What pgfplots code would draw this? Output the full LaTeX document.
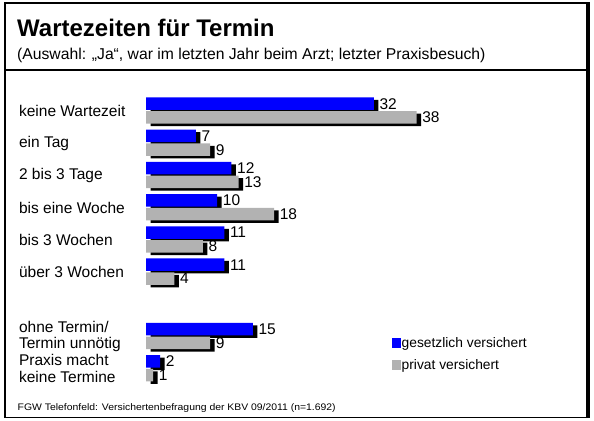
\documentclass[border=0pt]{standalone}
\usepackage{pgfplots}
\pgfplotsset{compat=1.18}
\usepackage{pgfplotstable}
\usepackage{graphicx}
\usepackage{fontspec}
\setmainfont{Liberation Sans}

\definecolor{gkvblue}{RGB}{0,0,255}
\definecolor{pkvgray}{RGB}{178,178,178}

% pos = row (0 at top, 6 left empty), gkv = gesetzlich, pkv = privat (in %)
\pgfplotstableread{
pos gkv pkv
0   32  38
-1  7   9
-2  12  13
-3  10  18
-4  11  8
-5  11  4
-7  15  9
-8  2   1
}\wartezeit

\begin{document}
\begin{tikzpicture}[x=1bp,y=1bp]
\useasboundingbox (0,0) rectangle (594,420);
% frame
\draw[line width=1.2bp] (5,2.5) rectangle (587,417);
\draw[line width=3.5bp] (588,1.8) -- (588,417.6);
\draw[line width=1.2bp] (5,350) -- (587,350);
% title block
\node[anchor=base west, inner sep=0pt, font=\fontsize{24bp}{26bp}\selectfont\bfseries]
  at (17,384) {Wartezeiten für Termin};
\node[anchor=base west, inner sep=0pt, font=\fontsize{15.7bp}{17bp}\selectfont]
  at (17,361) {(Auswahl: „Ja“, war im letzten Jahr beim Arzt; letzter Praxisbesuch)};
\node[anchor=base west, inner sep=0pt]
  at (17.5,10) {\resizebox{318bp}{\height}{\fontsize{9.5bp}{11bp}\selectfont FGW Telefonfeld: Versichertenbefragung der KBV 09/2011 (n=1.692)}};

\begin{axis}[
    x=7.12bp, y=32.2bp,
    anchor=north west, at={(146bp,325.5bp)},
    xmin=0, xmax=40, ymin=-8.5, ymax=0.5,
    enlargelimits=false,
    clip=false,
    axis x line=none,
    axis y line=left,
    y axis line style={draw=none},
    ytick style={draw=none},
    ytick={0,-1,-2,-3,-4,-5,-7,-8},
    yticklabels={keine Wartezeit, ein Tag, 2 bis 3 Tage, bis eine Woche, bis 3 Wochen, über 3 Wochen, {ohne Termin/\\Termin unnötig}, {Praxis macht\\keine Termine}},
    yticklabel style={anchor=west, xshift=-125bp, yshift=-0.5bp, align=left, inner sep=0pt,
        font=\fontsize{15.5bp}{16.5bp}\selectfont},
    /pgf/number format/assume math mode=true,
    nodes near coords style={anchor=west, inner sep=0pt, xshift=5.5bp, text=black,
        font=\fontsize{15.5bp}{17bp}\selectfont},
    legend style={at={(axis cs:34.55,-7.016)}, anchor=north west, draw=none, fill=none,
        inner sep=0pt, row sep=9.5bp, nodes={inner sep=0.5bp},
        font=\fontsize{13.8bp}{15bp}\selectfont},
    legend cell align=left,
]
% shadows
\addplot[xbar, bar width=12.5bp, bar shift=6.9bp, fill=black, draw=none,
    xshift=4.5bp, yshift=-2.5bp, forget plot] table[x=gkv, y=pos] {\wartezeit};
\addplot[xbar, bar width=12.5bp, bar shift=-6.9bp, fill=black, draw=none,
    xshift=4.5bp, yshift=-2.5bp, forget plot] table[x=pkv, y=pos] {\wartezeit};
% bars
\addplot[xbar, bar width=12.5bp, bar shift=6.9bp, fill=gkvblue, draw=none,
    nodes near coords, nodes near coords style={yshift=6.9bp},
    legend image code/.code={\fill[gkvblue] (0bp,-5bp) rectangle (9bp,5bp);}]
    table[x=gkv, y=pos] {\wartezeit};
\addlegendentry{gesetzlich versichert}
\addplot[xbar, bar width=12.5bp, bar shift=-6.9bp, fill=pkvgray, draw=none,
    nodes near coords, nodes near coords style={yshift=-6.9bp},
    legend image code/.code={\fill[pkvgray] (0bp,-5bp) rectangle (9bp,5bp);}]
    table[x=pkv, y=pos] {\wartezeit};
\addlegendentry{privat versichert}
\end{axis}
\end{tikzpicture}
\end{document}
